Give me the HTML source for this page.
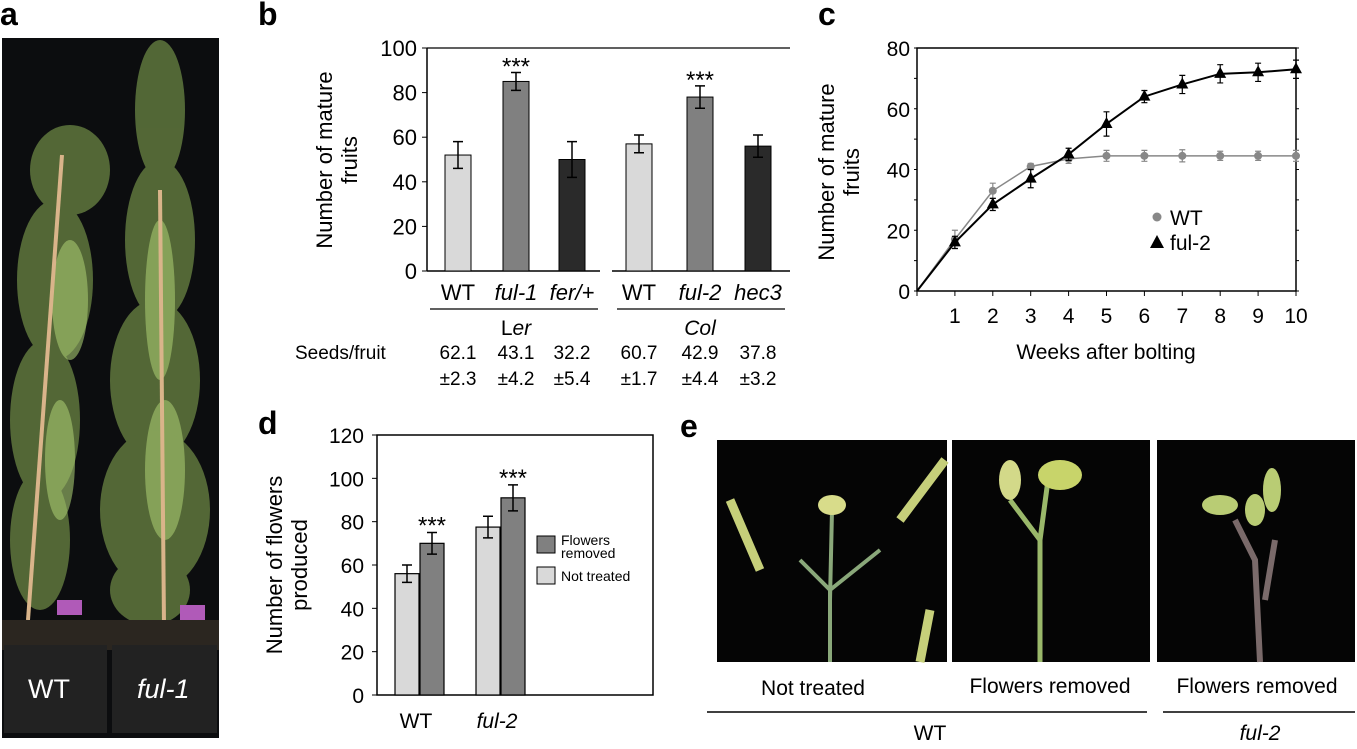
<!DOCTYPE html>
<html><head><meta charset="utf-8"><style>
body{margin:0;background:#fff;width:1357px;height:744px;overflow:hidden;font-family:"Liberation Sans",Arial,sans-serif}
svg text{font-family:"Liberation Sans",Arial,sans-serif}
</style></head><body>
<svg id="fig" width="1357" height="744" viewBox="0 0 1357 744" xmlns="http://www.w3.org/2000/svg">
<g>
<text x="0" y="25" font-size="32" font-weight="bold">a</text>
<rect x="2" y="38" width="217" height="700" fill="#0c0d0f"/>
<g fill="#8db257" opacity="0.55">
<ellipse cx="70" cy="170" rx="40" ry="45"/>
<ellipse cx="55" cy="280" rx="38" ry="80"/>
<ellipse cx="45" cy="420" rx="35" ry="80"/>
<ellipse cx="40" cy="540" rx="30" ry="70"/>
<ellipse cx="160" cy="110" rx="25" ry="70"/>
<ellipse cx="160" cy="240" rx="35" ry="80"/>
<ellipse cx="155" cy="380" rx="45" ry="80"/>
<ellipse cx="155" cy="510" rx="55" ry="80"/>
<ellipse cx="150" cy="590" rx="40" ry="35"/>
</g>
<g fill="#a6c870" opacity="0.6">
<ellipse cx="70" cy="300" rx="18" ry="60"/>
<ellipse cx="60" cy="460" rx="15" ry="60"/>
<ellipse cx="160" cy="300" rx="15" ry="80"/>
<ellipse cx="165" cy="470" rx="20" ry="70"/>
</g>
<line x1="28" y1="620" x2="62" y2="155" stroke="#d9b48a" stroke-width="4"/>
<line x1="164" y1="625" x2="160" y2="190" stroke="#d9b48a" stroke-width="4"/>
<rect x="57" y="600" width="25" height="15" fill="#b05ab8"/>
<rect x="180" y="605" width="25" height="15" fill="#b05ab8"/>
<rect x="2" y="620" width="217" height="30" fill="#2b2620"/>
<rect x="4" y="645" width="103" height="88" fill="#222"/>
<rect x="112" y="645" width="105" height="88" fill="#222"/>
<text x="28" y="698" font-size="27" fill="#fff">WT</text>
<text x="137" y="698" font-size="27" fill="#fff" font-style="italic">ful-1</text>
</g>
<g id="pb"></g>
<g id="pc"></g>
<g id="pd"></g>
<g>
<text x="680" y="437" font-size="32" font-weight="bold">e</text>
<rect x="717" y="440" width="230" height="222" fill="#050505"/>
<path d="M830 662 L830 590 L800 560 M830 590 L880 550 M830 600 L832 510" stroke="#8aa87a" stroke-width="4" fill="none"/>
<ellipse cx="832" cy="505" rx="14" ry="10" fill="#d8dc8a"/>
<path d="M730 500 L760 570 M900 520 L945 460 M920 662 L930 610" stroke="#c6cf7a" stroke-width="9" fill="none"/>
<rect x="952" y="440" width="198" height="222" fill="#050505"/>
<path d="M1040 662 L1040 540 L1010 500 M1040 540 L1048 480" stroke="#9ab86a" stroke-width="5" fill="none"/>
<ellipse cx="1010" cy="480" rx="11" ry="20" fill="#d3d989"/>
<ellipse cx="1060" cy="475" rx="22" ry="15" fill="#c8d46a"/>
<rect x="1157" y="440" width="198" height="222" fill="#050505"/>
<path d="M1260 662 L1255 560 L1235 520 M1265 600 L1275 540" stroke="#7a6a6a" stroke-width="6" fill="none"/>
<ellipse cx="1220" cy="505" rx="18" ry="10" fill="#b9cc74"/>
<ellipse cx="1255" cy="510" rx="10" ry="16" fill="#b9cc74"/>
<ellipse cx="1272" cy="490" rx="9" ry="22" fill="#b9cc74"/>
<text x="813" y="695" font-size="21" text-anchor="middle">Not treated</text>
<text x="1050" y="693" font-size="21" text-anchor="middle">Flowers removed</text>
<text x="1257" y="693" font-size="21" text-anchor="middle">Flowers removed</text>
<line x1="707" y1="712" x2="1147" y2="712" stroke="#000" stroke-width="1.5"/>
<line x1="1163" y1="712" x2="1355" y2="712" stroke="#000" stroke-width="1.5"/>
<text x="930" y="740" font-size="21" text-anchor="middle">WT</text>
<text x="1260" y="740" font-size="21" text-anchor="middle" font-style="italic">ful-2</text>
</g>
</svg>
<script>
const NS="http://www.w3.org/2000/svg";
// panel b data
const bCats=["WT","ful-1","fer/+","WT","ful-2","hec3"];
const bVals=[52,85,50,57,78,56];
const bErr=[6,4,8,4,5,5];
const bSig=["","***","","","***",""];
const bSeeds=["62.1","43.1","32.2","60.7","42.9","37.8"];
const bSeedErr=["±2.3","±4.2","±5.4","±1.7","±4.4","±3.2"];
const bTicks=[0,20,40,60,80,100];
// panel c data
const cWeeks=[0,1,2,3,4,5,6,7,8,9,10];
const cWT=[0,17,33,41,43.5,44.5,44.5,44.5,44.5,44.5,44.5];
const cWTerr=[0,3,2.5,1,1.5,1.8,1.8,2,1.5,1.5,1.8];
const cFul=[0,16,28.5,37,45,55,64,68,71.5,72,73];
const cFulErr=[0,2,2,3,2,4,2,3,3,3,3];
const cTicks=[0,20,40,60,80];
// panel d data
const dGroups=["WT","ful-2"];
const dNot=[56,77.5];
const dNotErr=[4,5];
const dRem=[70,91];
const dRemErr=[5,6];
const dTicks=[0,20,40,60,80,100,120];

function el(parent,tag,attrs,text){const e=document.createElementNS(NS,tag);for(const k in attrs)e.setAttribute(k,attrs[k]);if(text!==undefined)e.textContent=text;parent.appendChild(e);return e;}

(function(){
const g=document.getElementById('pb');
const y=v=>271-v*(271-48)/100;
const bx=[458,516,572,639,700,758];
const fills=["#d9d9d9","#808080","#2a2a2a","#d9d9d9","#808080","#2a2a2a"];
const t=el(g,'text',{x:258,y:25,'font-size':32,'font-weight':'bold'},'b');

el(g,'line',{x1:427,y1:48,x2:790,y2:48,stroke:'#000','stroke-width':1.2});
el(g,'line',{x1:427,y1:48,x2:427,y2:271,stroke:'#000','stroke-width':1.5});
el(g,'line',{x1:427,y1:271,x2:600,y2:271,stroke:'#000','stroke-width':1.5});
el(g,'line',{x1:612,y1:271,x2:790,y2:271,stroke:'#000','stroke-width':1.5});
bTicks.forEach(v=>{el(g,'line',{x1:422,y1:y(v),x2:427,y2:y(v),stroke:'#000'});
const tl=el(g,'text',{x:417,y:y(v)+8,'font-size':22,'text-anchor':'end'},v);
});
const yt=el(g,'text',{transform:'translate(332,160) rotate(-90)','font-size':22,'text-anchor':'middle'});

el(yt,'tspan',{x:0,dy:0},'Number of mature');el(yt,'tspan',{x:0,dy:25},'fruits');
bVals.forEach((v,i)=>{const r=el(g,'rect',{x:bx[i]-13,y:y(v),width:26,height:271-y(v),fill:fills[i],stroke:'#000','stroke-width':1});

const e=bErr[i];el(g,'path',{d:`M${bx[i]} ${y(v+e)}V${y(v-e)}M${bx[i]-5} ${y(v+e)}h10M${bx[i]-5} ${y(v-e)}h10`,stroke:'#000','stroke-width':1.5,fill:'none'});
if(bSig[i]){const s=el(g,'text',{x:bx[i],y:y(v+e)+2,'font-size':24,'text-anchor':'middle'},bSig[i]);}
const lab=el(g,'text',{x:bx[i],y:300,'font-size':22,'text-anchor':'middle','font-style':(i==0||i==3)?'normal':'italic'},bCats[i]);

const sd=el(g,'text',{x:bx[i],y:359,'font-size':19,'text-anchor':'middle'},bSeeds[i]);
const se=el(g,'text',{x:bx[i],y:385,'font-size':19,'text-anchor':'middle'},bSeedErr[i]);});
el(g,'line',{x1:430,y1:309,x2:598,y2:309,stroke:'#000','stroke-width':1.2});
el(g,'line',{x1:617,y1:309,x2:785,y2:309,stroke:'#000','stroke-width':1.2});
const l1=el(g,'text',{x:516,y:335,'font-size':21,'text-anchor':'middle'});
el(l1,'tspan',{},'L');el(l1,'tspan',{'font-style':'italic'},'er');
const l2=el(g,'text',{x:700,y:335,'font-size':21,'text-anchor':'middle','font-style':'italic'},'Col');
const sf=el(g,'text',{x:295,y:359,'font-size':19},'Seeds/fruit');
})();

(function(){
const g=document.getElementById('pc');
const x=w=>917+w*(1296-917)/10, y=v=>291-v*(291-48)/80;
const t=el(g,'text',{x:818,y:25,'font-size':32,'font-weight':'bold'},'c');
el(g,'rect',{x:917,y:48,width:379,height:243,fill:'none',stroke:'#000','stroke-width':1.5});
cTicks.forEach(v=>{const tl=el(g,'text',{x:910,y:y(v)+8,'font-size':21,'text-anchor':'end'},v);});
for(let v=0;v<=80;v+=10){el(g,'line',{x1:914,y1:y(v),x2:917,y2:y(v),stroke:'#000'});el(g,'line',{x1:1296,y1:y(v),x2:1299,y2:y(v),stroke:'#000'});}
cWeeks.forEach(w=>{el(g,'line',{x1:x(w),y1:291,x2:x(w),y2:296,stroke:'#000'});
if(w>0){const tl=el(g,'text',{x:x(w),y:323,'font-size':21,'text-anchor':'middle'},w);}});
const xt=el(g,'text',{x:1106,y:359,'font-size':21,'text-anchor':'middle'},'Weeks after bolting');
const yt=el(g,'text',{transform:'translate(834,172) rotate(-90)','font-size':22,'text-anchor':'middle'});
el(yt,'tspan',{x:0,dy:0},'Number of mature');el(yt,'tspan',{x:0,dy:25},'fruits');
const series=[[cWT,cWTerr,'#888','wt'],[cFul,cFulErr,'#000','ful2']];
series.forEach(([vals,errs,col,nm])=>{
const p=el(g,'polyline',{points:vals.map((v,i)=>x(cWeeks[i])+','+y(v)).join(' '),fill:'none',stroke:col,'stroke-width':nm=='wt'?1.5:2});

vals.forEach((v,i)=>{if(i==0)return;const cx=x(cWeeks[i]),e=errs[i];
el(g,'path',{d:`M${cx} ${y(v+e)}V${y(v-e)}M${cx-3} ${y(v+e)}h6M${cx-3} ${y(v-e)}h6`,stroke:col,'stroke-width':1.2,fill:'none'});
let m;if(nm=='wt')m=el(g,'circle',{cx:cx,cy:y(v),r:4,fill:'#888'});
else m=el(g,'path',{d:`M${cx} ${y(v)-7}L${cx+6} ${y(v)+4}L${cx-6} ${y(v)+4}Z`,fill:'#000'});
});});
el(g,'circle',{cx:1157,cy:217,r:4.5,fill:'#888'});
el(g,'path',{d:'M1157 235L1164 248L1150 248Z',fill:'#000'});
const lw=el(g,'text',{x:1170,y:225,'font-size':21},'WT');
const lf=el(g,'text',{x:1170,y:250,'font-size':21},'ful-2');
})();

(function(){
const g=document.getElementById('pd');
const y=v=>695-v*(695-435)/120;
const gx=[419,500];
const t=el(g,'text',{x:258,y:434,'font-size':32,'font-weight':'bold'},'d');
el(g,'rect',{x:377,y:435,width:276,height:260,fill:'none',stroke:'#000','stroke-width':1.5});
dTicks.forEach(v=>{el(g,'line',{x1:372,y1:y(v),x2:377,y2:y(v),stroke:'#000'});
const tl=el(g,'text',{x:364,y:y(v)+8,'font-size':21,'text-anchor':'end'},v);});
const yt=el(g,'text',{transform:'translate(282,565) rotate(-90)','font-size':22,'text-anchor':'middle'});
el(yt,'tspan',{x:0,dy:0},'Number of flowers');el(yt,'tspan',{x:0,dy:25},'produced');
dGroups.forEach((gn,i)=>{
[[dNot,dNotErr,'#d9d9d9',-12,'not-treated'],[dRem,dRemErr,'#808080',13,'flowers-removed']].forEach(([vals,errs,f,off,nm])=>{
const cx=gx[i]+off,v=vals[i],e=errs[i];
const r=el(g,'rect',{x:cx-12,y:y(v),width:24,height:695-y(v),fill:f,stroke:'#000','stroke-width':1.2});

el(g,'path',{d:`M${cx} ${y(v+e)}V${y(v-e)}M${cx-5} ${y(v+e)}h10M${cx-5} ${y(v-e)}h10`,stroke:'#000','stroke-width':1.5,fill:'none'});
if(nm=='flowers-removed'){const s=el(g,'text',{x:cx,y:y(v+e)+1,'font-size':24,'text-anchor':'middle'},'***');}});
const lab=el(g,'text',{x:gx[i]-3,y:728,'font-size':21,'text-anchor':'middle','font-style':i?'italic':'normal'},gn);
});
el(g,'rect',{x:537,y:536,width:18,height:17,fill:'#808080',stroke:'#000'});
el(g,'rect',{x:537,y:567,width:18,height:17,fill:'#d9d9d9',stroke:'#000'});
const l1=el(g,'text',{x:561,y:545,'font-size':14});
el(l1,'tspan',{x:561,dy:0},'Flowers');el(l1,'tspan',{x:561,dy:13},'removed');
const l2=el(g,'text',{x:561,y:581,'font-size':14},'Not treated');
})();
</script>
</body></html>
